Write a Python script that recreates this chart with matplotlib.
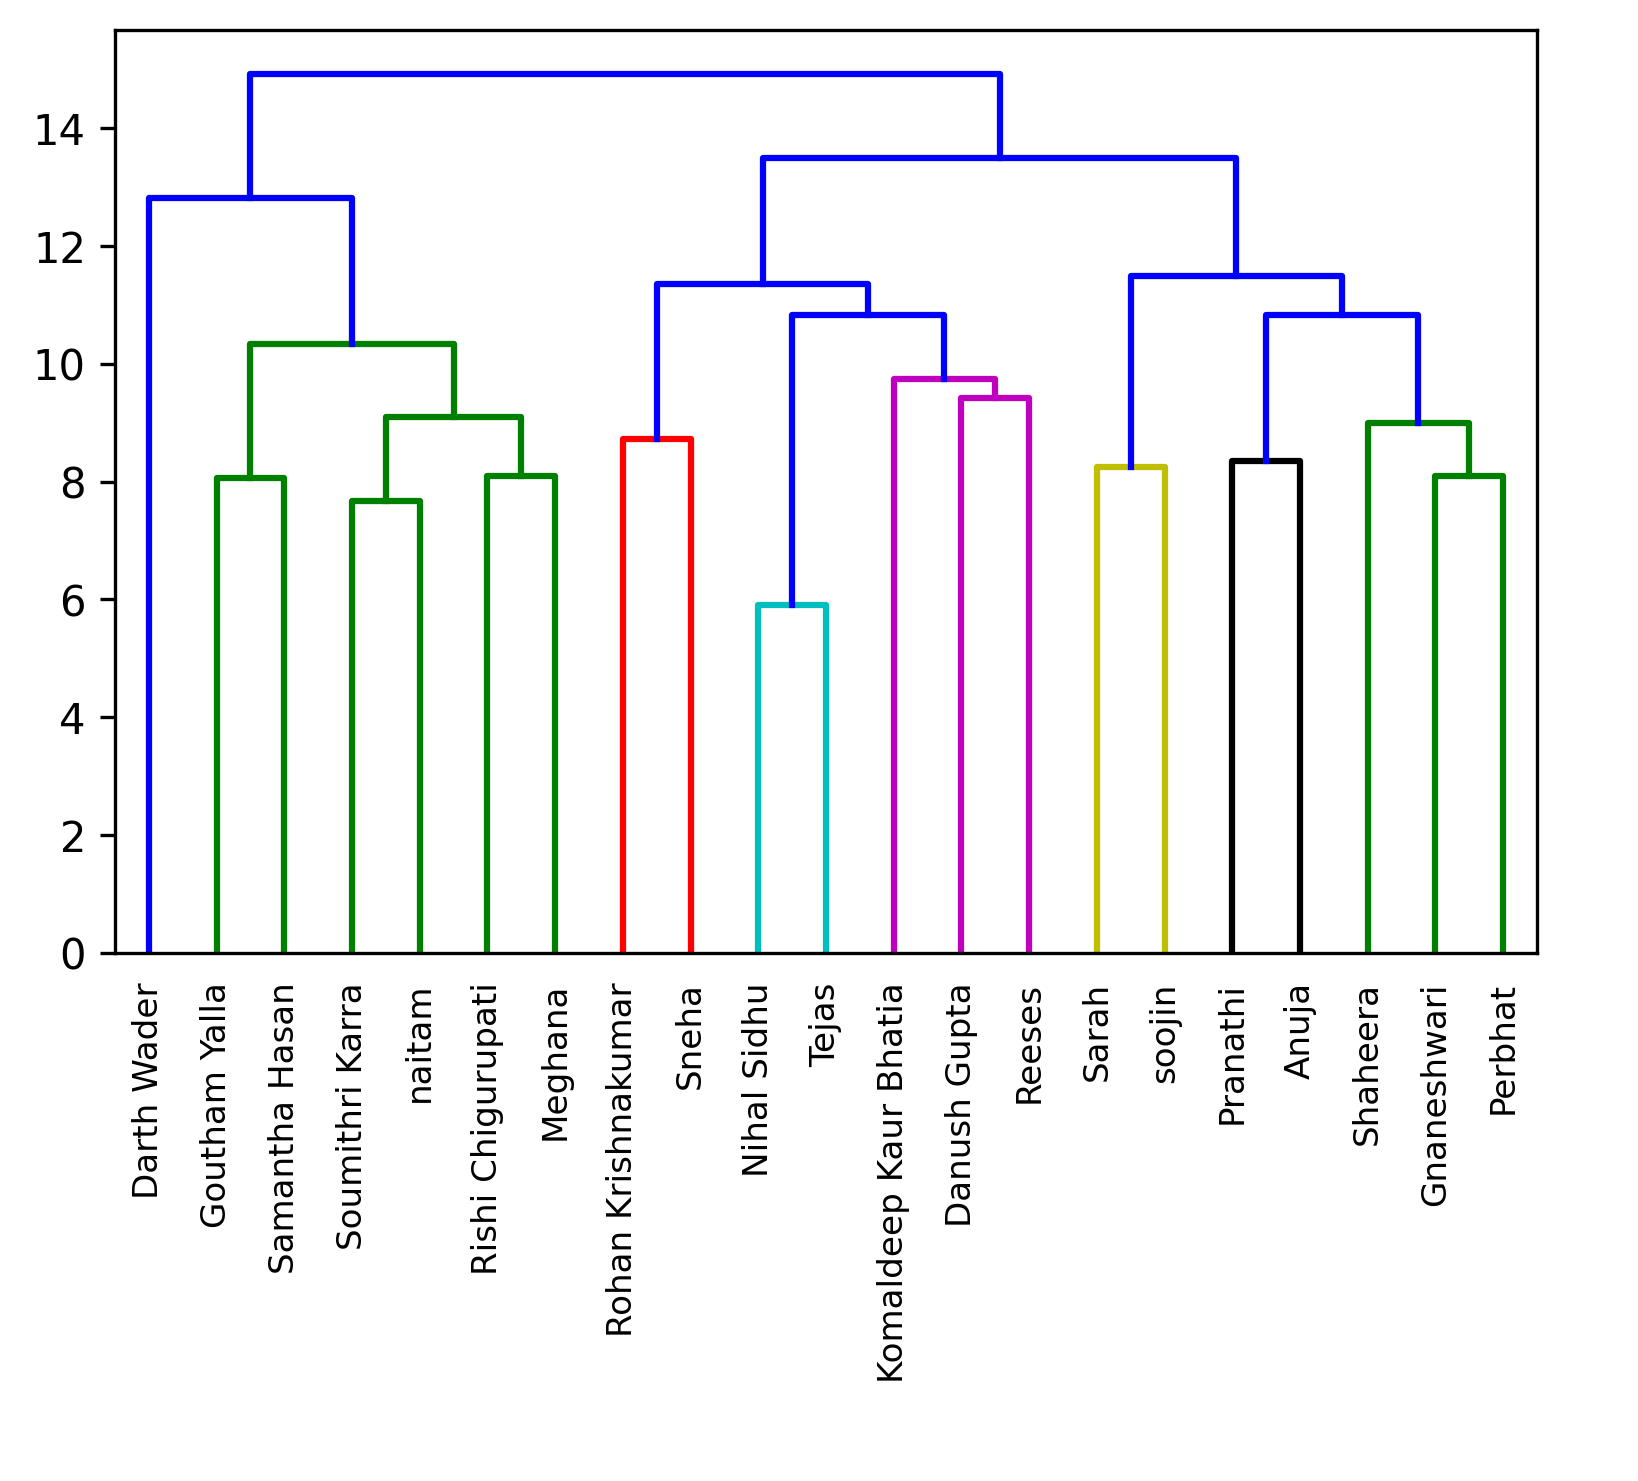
import matplotlib
matplotlib.use("Agg")
import matplotlib.pyplot as plt

# leaves of the tree, in the order of the original observations
names = ["Darth Wader", "Goutham Yalla", "Samantha Hasan", "Soumithri Karra",
         "naitam", "Rishi Chigurupati", "Meghana", "Rohan Krishnakumar",
         "Sneha", "Nihal Sidhu", "Tejas", "Komaldeep Kaur Bhatia",
         "Danush Gupta", "Reeses", "Sarah", "soojin", "Pranathi", "Anuja",
         "Shaheera", "Gnaneshwari", "Perbhat"]

# linkage: new cluster n+k joins left[k] and right[k] at height[k]
left = [1, 3, 5, 22, 21, 0, 7, 9, 12, 11, 28, 27, 14, 16, 19, 18, 34, 33, 32, 26]
right = [2, 4, 6, 23, 24, 25, 8, 10, 13, 29, 30, 31, 15, 17, 20, 35, 36, 37, 38, 39]
height = [8.06, 7.67, 8.09, 9.10, 10.34, 12.81, 8.72, 5.91, 9.42, 9.75,
          10.82, 11.35, 8.25, 8.35, 8.09, 8.99, 10.82, 11.49, 13.50, 14.92]

n = len(names)
palette = ['g', 'r', 'c', 'm', 'y', 'k']
threshold = 0.7 * max(height)

def kids(c):
    return left[c - n], right[c - n]

def h_of(c):
    return 0.0 if c < n else height[c - n]

# leaf order from a left-first walk
order = []
def walk(c):
    if c < n:
        order.append(c)
    else:
        a, b = kids(c)
        walk(a)
        walk(b)
root = n + len(height) - 1
walk(root)
xpos = {leaf: 5 + 10 * i for i, leaf in enumerate(order)}

def x_of(c):
    if c in xpos:
        return xpos[c]
    a, b = kids(c)
    xpos[c] = (x_of(a) + x_of(b)) / 2
    return xpos[c]

# colour assignment, same as the threshold rule
colors = {}
count = [0]
def paint(c, col):
    if c < n:
        return
    colors[c] = col
    a, b = kids(c)
    paint(a, col)
    paint(b, col)

def assign(c):
    if c < n:
        return
    if h_of(c) < threshold:
        paint(c, palette[count[0] % len(palette)])
        count[0] += 1
    else:
        colors[c] = 'b'
        a, b = kids(c)
        assign(a)
        assign(b)
assign(root)

fig = plt.figure(figsize=(5.463, 4.937), dpi=300)
ax = fig.add_axes([0.0702, 0.3565, 0.8676, 0.6232])

for k in range(len(height)):
    c = n + k
    a, b = kids(c)
    xa, xb = x_of(a), x_of(b)
    ax.plot([xa, xa, xb, xb], [h_of(a), height[k], height[k], h_of(b)],
            color=colors[c], linewidth=1.5)

ax.set_xlim(0, 10 * n)
ax.set_ylim(0, max(height) * 1.05)
ax.set_xticks([5 + 10 * i for i in range(n)])
ax.set_xticklabels([names[i] for i in order], rotation=90, fontsize=8.2)
ax.tick_params(axis='x', length=0, pad=7)
ax.tick_params(axis='y', labelsize=10)

fig.savefig("out.png", dpi=300)
